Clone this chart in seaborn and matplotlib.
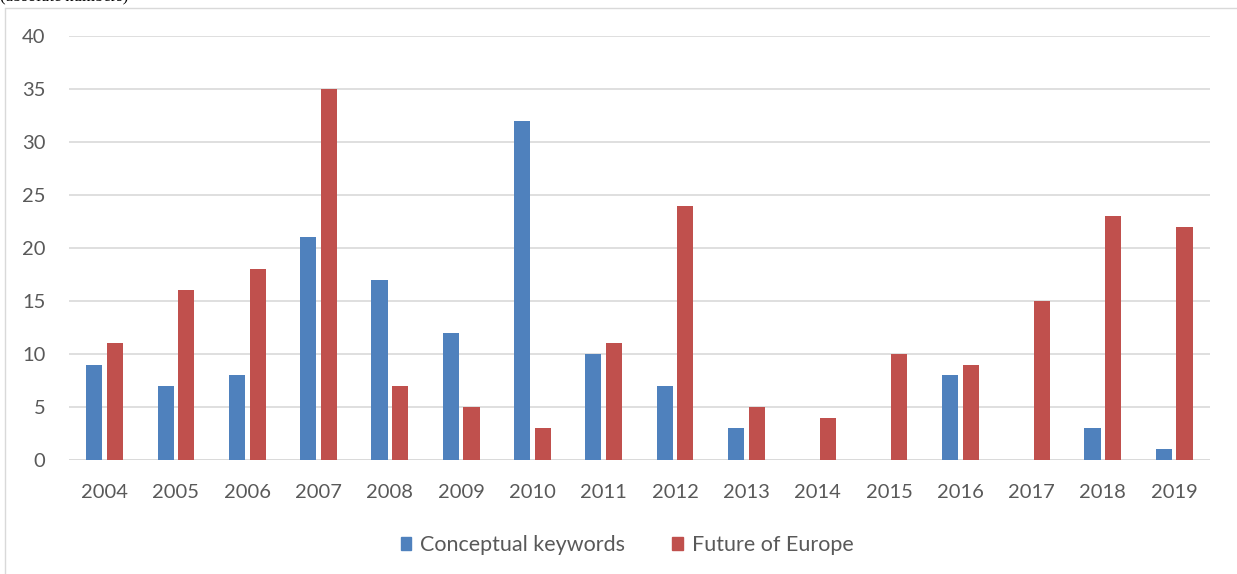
import matplotlib
matplotlib.use("Agg")
import matplotlib.pyplot as plt
from matplotlib.lines import Line2D
import seaborn as sns
import pandas as pd

years = ["2004", "2005", "2006", "2007", "2008", "2009", "2010", "2011",
         "2012", "2013", "2014", "2015", "2016", "2017", "2018", "2019"]
conceptual_keywords = [9, 7, 8, 21, 17, 12, 32, 10, 7, 3, 0, 0, 8, 0, 3, 1]
future_of_europe = [11, 16, 18, 35, 7, 5, 3, 11, 24, 5, 4, 10, 9, 15, 23, 22]
series_names = ["Conceptual keywords", "Future of Europe"]
colors = ["#4F81BD", "#C0504D"]

df = pd.DataFrame({
    "year": years * 2,
    "value": conceptual_keywords + future_of_europe,
    "series": [series_names[0]] * len(years) + [series_names[1]] * len(years),
})

sns.set_theme(style="white")
plt.rcParams["font.family"] = ["Lato", "DejaVu Sans"]

fig = plt.figure(figsize=(12.37, 5.74), dpi=100)
ax = fig.add_axes([0.0558, 0.1986, 0.9222, 0.7384])

sns.barplot(data=df, x="year", y="value", hue="series", hue_order=series_names,
            order=years, palette=colors, width=0.58, gap=0.22, saturation=1,
            edgecolor="none", ax=ax, legend=False)

ax.set_ylim(0, 40)
ax.set_xlim(-0.5, len(years) - 0.5)
ax.set_yticks(range(0, 41, 5))
ax.yaxis.grid(True, color="#d9d9d9", linewidth=1.2)
ax.set_axisbelow(True)
for s in ax.spines.values():
    s.set_visible(False)
ax.axhline(0, color="#d9d9d9", linewidth=1.2, zorder=0.5)
ax.set_xlabel("")
ax.set_ylabel("")
ax.tick_params(axis="both", length=0, labelsize=14.5, colors="#595959")
ax.tick_params(axis="y", pad=17)
ax.tick_params(axis="x", pad=17)

handles = [plt.Rectangle((0, 0), 1, 1, color=c) for c in colors]
fig.legend(handles, series_names, loc="center", bbox_to_anchor=(0.507, 0.05),
           ncol=2, frameon=False, fontsize=15.5, handlelength=0.5,
           handleheight=0.55, handletextpad=0.4, columnspacing=2.2,
           labelcolor="#595959")

# outer chart frame (top and left edges)
fig.add_artist(Line2D([5 / 1237, 1.0], [1 - 7.5 / 574, 1 - 7.5 / 574],
                      color="#d9d9d9", linewidth=1.0, transform=fig.transFigure))
fig.add_artist(Line2D([5 / 1237, 5 / 1237], [0.0, 1 - 7.5 / 574],
                      color="#d9d9d9", linewidth=1.0, transform=fig.transFigure))

fig.text(0.0, 1 - 4 / 574, "(absolute numbers)", family="Liberation Serif",
         fontsize=12, color="black", ha="left", va="bottom")

fig.savefig("out.png", dpi=100)
